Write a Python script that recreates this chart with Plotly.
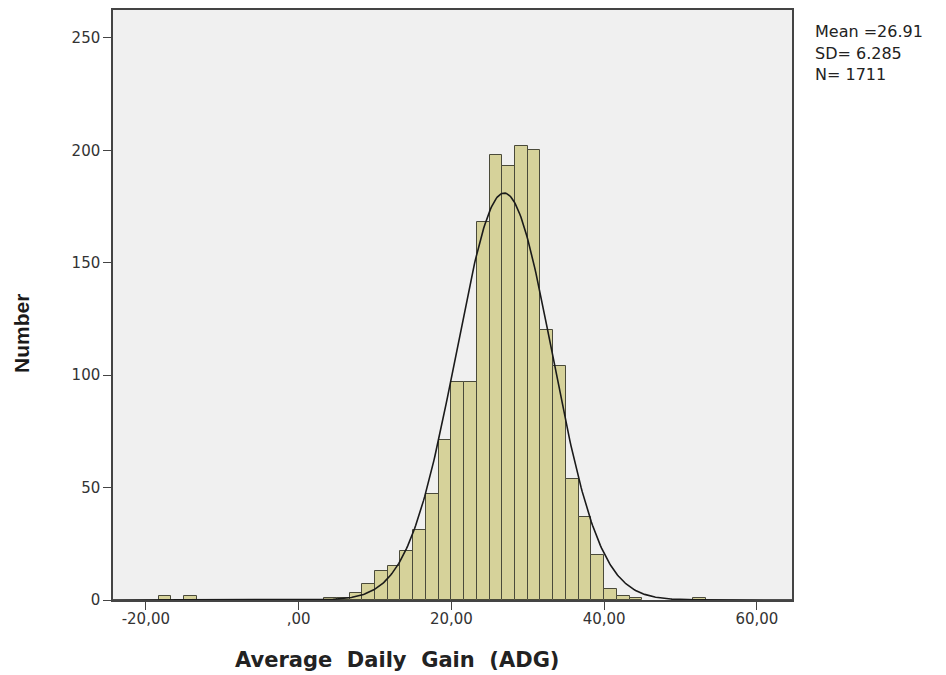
import numpy as np
import plotly.graph_objects as go

# ---- data ----
bin_width = 5 / 3
bin_starts = [-18.333, -15.0, 3.333, 5.0, 6.667, 8.333, 10.0, 11.667, 13.333, 15.0,
              16.667, 18.333, 20.0, 21.667, 23.333, 25.0, 26.667, 28.333, 30.0,
              31.667, 33.333, 35.0, 36.667, 38.333, 40.0, 41.667, 43.333, 51.667]
counts = [2, 2, 1, 1, 3, 7, 13, 15, 22, 31,
          47, 71, 97, 97, 168, 198, 193, 202, 200,
          120, 104, 54, 37, 20, 5, 2, 1, 1]
mean_val = 26.91
sd_val = 6.285
n_val = 1711
x_tick_vals = [-20, 0, 20, 40, 60]
x_tick_text = ["-20,00", ",00", "20,00", "40,00", "60,00"]
y_tick_vals = [0, 50, 100, 150, 200, 250]

centers = [s + bin_width / 2 for s in bin_starts]

# fitted normal curve from the stated statistics
xc = np.linspace(-24.3, 64.6, 600)
yc = n_val * bin_width / (sd_val * np.sqrt(2 * np.pi)) * np.exp(-0.5 * ((xc - mean_val) / sd_val) ** 2)

fig = go.Figure()
fig.add_trace(go.Bar(
    x=centers, y=counts, width=bin_width,
    marker=dict(color="#D6D29A", line=dict(color="#4a4a3a", width=1)),
    showlegend=False, hoverinfo="x+y"))
fig.add_trace(go.Scatter(
    x=xc, y=yc, mode="lines", line=dict(color="#1a1a1a", width=1.6),
    showlegend=False, hoverinfo="skip"))

wide_font = "DejaVu Sans, Verdana, sans-serif"
arial = "Liberation Sans, Arial, sans-serif"
nb = "\u00a0"
fig.update_layout(
    width=946, height=675,
    margin=dict(l=105, r=162, t=0, b=83),
    paper_bgcolor="white", plot_bgcolor="#F0F0F0",
    bargap=0,
    font=dict(family=wide_font, size=15, color="#333333"),
    xaxis=dict(range=[-24.3, 64.6], tickvals=x_tick_vals, ticktext=x_tick_text,
               showgrid=False, zeroline=False, showline=True, mirror=True,
               linecolor="#444444", linewidth=1.5, ticks="outside", ticklen=8,
               ticklabelstandoff=-4,
               tickcolor="#444444", tickfont=dict(size=15, color="#333333")),
    yaxis=dict(range=[0, 262.4], tickvals=y_tick_vals,
               showgrid=False, zeroline=False, showline=True, mirror=True,
               linecolor="#444444", linewidth=1.5, ticks="outside", ticklen=8,
               tickcolor="#444444", tickfont=dict(size=15, color="#333333")),
)

# axis titles (positioned as in the reference, not centred on the plot)
fig.add_annotation(text="<b>Average" + nb + " Daily" + nb + " Gain" + nb + " (ADG)</b>",
                   xref="paper", yref="paper", x=(397 - 113) / 679, y=(600 - 660) / 592,
                   xanchor="center", yanchor="middle", showarrow=False,
                   font=dict(size=21, color="#222222", family=wide_font))
fig.add_annotation(text="<b>Number</b>", textangle=-90,
                   xref="paper", yref="paper", x=(22 - 113) / 679, y=(600 - 333) / 592,
                   xanchor="center", yanchor="middle", showarrow=False,
                   font=dict(size=21, color="#1a1a1a", family=arial))

stats_lines = ["Mean =%.2f" % mean_val, "SD= %.3f" % sd_val, "N= %d" % n_val]
for i, t in enumerate(stats_lines):
    fig.add_annotation(text=t, xref="paper", yref="paper",
                       x=(813 - 113) / 679, y=(600 - (30 + 21.5 * i)) / 592,
                       xanchor="left", yanchor="middle", showarrow=False,
                       font=dict(size=16, color="#222222", family=wide_font))

fig.write_html("out.html")
